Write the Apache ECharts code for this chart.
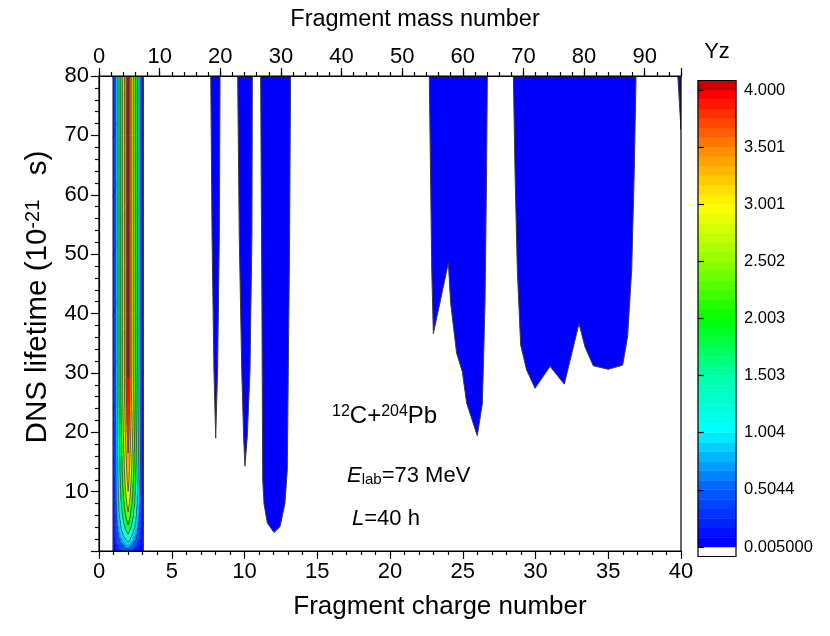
<!DOCTYPE html>
<html>
<head>
<meta charset="utf-8">
<title>Yz contour</title>
<script src="https://cdn.jsdelivr.net/npm/echarts@6.0.0/dist/echarts.min.js"></script>
<style>
  body { margin: 0; background: #fff; }
  #contour { width: 830px; height: 636px; }
</style>
</head>
<body>
<div id="contour"></div>
<script>
// contour levels of Yz and the colour bar labels
var levelLow = 0.005;
var levelHigh = 4.000;
var bandCount = 48;
var barLabels = ['0.005000', '0.5044', '1.004', '1.503', '2.003', '2.502', '3.001', '3.501', '4.000'];

// 0.005 outlines of the blue islands, points are [Z, lifetime]
var island8 = [[7.68, 80], [7.77, 53], [7.90, 30.5], [8.02, 19], [8.15, 30.5], [8.27, 53], [8.32, 80]];
var island10 = [[9.53, 80], [9.64, 53], [9.81, 30.5], [9.94, 19.2], [10.03, 14.3], [10.19, 19.2], [10.38, 30.5], [10.51, 53], [10.54, 80]];
var island12 = [[11.11, 80], [11.2, 40], [11.25, 12], [11.34, 8], [11.57, 4.7], [12.03, 3.1], [12.44, 4.1], [12.78, 8], [12.94, 13.6], [13.08, 47.3], [13.17, 80]];
var island23 = [[22.70, 80], [22.87, 47.3], [22.98, 36.6], [24.01, 48.5], [24.17, 41.7], [24.58, 33.3], [24.97, 30.2], [25.27, 24.9], [26.0, 19.4], [26.35, 24.9], [26.53, 41.7], [26.64, 64.1], [26.69, 80]];
var island30 = [[28.48, 80], [28.59, 64.1], [28.75, 47.3], [28.98, 34.7], [29.39, 30.5], [29.97, 27.4], [31.0, 31.1], [31.98, 28.1], [32.99, 38.3], [33.40, 34.4], [33.97, 31.2], [35.0, 30.6], [35.99, 31.3], [36.33, 36.1], [36.61, 47.3], [36.79, 64.1], [36.91, 80]];
var island40 = [[39.78, 80], [40, 80], [40, 71]];
var islands = [island8, island10, island12, island23, island30, island40];

// light fragments: Yz on a small grid, one list per Z, along heT
var heZ = [0, 1, 2, 3, 4];
var heT = [0, 1, 2, 3, 4, 5, 6, 8, 10, 12, 15, 18, 21, 24, 27, 30, 40, 50, 60, 70, 80];
var yzZ0 = [0, 0, 0, 0, 0, 0, 0, 0, 0, 0, 0, 0, 0, 0, 0, 0, 0, 0, 0, 0, 0];
var yzZ1 = [0.0052, 0.0052, 0.0052, 0.0052, 0.0052, 0.0052, 0.0052, 0.0052, 0.0052, 0.0052, 0.0052, 0.0052, 0.0052, 0.0052, 0.0052, 0.0052, 0.0052, 0.0052, 0.0052, 0.0052, 0.0052];
var yzZ2 = [0.4, 0.8, 1.2, 1.55, 1.9, 2.15, 2.4, 2.75, 3.0, 3.2, 3.4, 3.6, 3.75, 3.88, 3.97, 4.01, 4.01, 4.01, 4.01, 4.01, 4.01];
var yzZ3 = [0.0053, 0.0053, 0.0053, 0.0053, 0.0053, 0.0053, 0.0053, 0.0053, 0.0053, 0.0053, 0.0053, 0.0053, 0.0053, 0.0053, 0.0053, 0.0053, 0.0053, 0.0053, 0.0053, 0.0053, 0.0053];
var yzZ4 = [0, 0, 0, 0, 0, 0, 0, 0, 0, 0, 0, 0, 0, 0, 0, 0, 0, 0, 0, 0, 0];
var heYz = [yzZ0, yzZ1, yzZ2, yzZ3, yzZ4];

var levels = [];
for (var k = 0; k <= bandCount; k++) {
    levels.push(levelLow + k * (levelHigh - levelLow) / bandCount);
}
var labelStep = bandCount / (barLabels.length - 1);
var barTicks = barLabels.map(function (s, i) { return i * labelStep; });

var colorStops = [
    [0, [0, 0, 255]],
    [0.125, [0, 100, 255]],
    [0.25, [0, 255, 255]],
    [0.375, [0, 255, 165]],
    [0.5, [0, 255, 0]],
    [0.625, [140, 255, 0]],
    [0.75, [255, 255, 0]],
    [0.875, [255, 140, 0]],
    [1, [255, 0, 0]]
];
function bandColor(k) {
    if (k >= bandCount) return 'rgb(200,0,0)';
    var f = k / (bandCount - 1);
    for (var i = 1; i < colorStops.length; i++) {
        if (f <= colorStops[i][0]) {
            var a = colorStops[i - 1], b = colorStops[i];
            var s = (f - a[0]) / (b[0] - a[0]);
            var c = a[1].map(function (v, n) { return Math.round(v + s * (b[1][n] - v)); });
            return 'rgb(' + c.join(',') + ')';
        }
    }
    return 'rgb(255,0,0)';
}

// keep the part of a polygon (points [x, y, value]) above or below a level
function clipPoly(poly, level, keepAbove) {
    var out = [];
    for (var i = 0; i < poly.length; i++) {
        var a = poly[i], b = poly[(i + 1) % poly.length];
        var ina = keepAbove ? a[2] >= level : a[2] < level;
        var inb = keepAbove ? b[2] >= level : b[2] < level;
        if (ina) out.push(a);
        if (ina !== inb) {
            var s = (level - a[2]) / (b[2] - a[2]);
            out.push([a[0] + s * (b[0] - a[0]), a[1] + s * (b[1] - a[1]), level]);
        }
    }
    return out;
}
function isoSegment(tri, level) {
    var pts = [];
    for (var i = 0; i < 3; i++) {
        var a = tri[i], b = tri[(i + 1) % 3];
        if ((a[2] - level) * (b[2] - level) < 0) {
            var s = (level - a[2]) / (b[2] - a[2]);
            pts.push([a[0] + s * (b[0] - a[0]), a[1] + s * (b[1] - a[1])]);
        }
    }
    return pts.length === 2 ? pts : null;
}
function cellTriangles(api) {
    var i = api.value(4), j = api.value(5);
    function corner(a, b) {
        var c = api.coord([heZ[a], heT[b]]);
        return [c[0], c[1], heYz[a][b]];
    }
    var p00 = corner(i, j), p10 = corner(i + 1, j), p01 = corner(i, j + 1), p11 = corner(i + 1, j + 1);
    return [[p00, p10, p11], [p00, p11, p01]];
}

function renderHeFill(params, api) {
    var children = [];
    cellTriangles(api).forEach(function (tri) {
        var vals = tri.map(function (p) { return p[2]; });
        var vmin = Math.min.apply(null, vals), vmax = Math.max.apply(null, vals);
        for (var k = 0; k <= bandCount; k++) {
            var lo = levels[k];
            var hi = k < bandCount ? levels[k + 1] : Infinity;
            if (vmax < lo || vmin >= hi) continue;
            var poly = clipPoly(tri, lo, true);
            if (k < bandCount) poly = clipPoly(poly, hi, false);
            if (poly.length < 3) continue;
            var c = bandColor(k);
            children.push({
                type: 'polygon',
                shape: { points: poly.map(function (p) { return [p[0], p[1]]; }) },
                style: { fill: c, stroke: c, lineWidth: 0.5 }
            });
        }
    });
    return { type: 'group', children: children };
}
function renderHeLines(params, api) {
    var children = [];
    cellTriangles(api).forEach(function (tri) {
        for (var k = 0; k <= bandCount; k += labelStep) {
            var seg = isoSegment(tri, levels[k]);
            if (!seg) continue;
            children.push({
                type: 'line',
                shape: { x1: seg[0][0], y1: seg[0][1], x2: seg[1][0], y2: seg[1][1] },
                style: { stroke: '#3a3a3a', lineWidth: 0.8 }
            });
        }
    });
    return { type: 'group', children: children };
}
function renderIsland(params, api) {
    var pts = islands[api.value(2)].map(function (p) { return api.coord(p); });
    return {
        type: 'polygon',
        shape: { points: pts },
        style: { fill: bandColor(0), stroke: '#3c3c3c', lineWidth: 1 }
    };
}
function renderBand(params, api) {
    var k = api.value(1);
    var p0 = api.coord([0, k]), p1 = api.coord([1, k + 1]);
    var c = k < 0 ? '#ffffff' : bandColor(k);
    return {
        type: 'rect',
        shape: { x: p0[0], y: p1[1], width: p1[0] - p0[0], height: p0[1] - p1[1] },
        style: { fill: c, stroke: c, lineWidth: 0.5 }
    };
}

var heCells = [];
for (var i = 0; i < heZ.length - 1; i++) {
    for (var j = 0; j < heT.length - 1; j++) {
        heCells.push([heZ[i], heT[j], heZ[i + 1], heT[j + 1], i, j]);
    }
}
var islandData = islands.map(function (isl, n) { return [isl[0][0], 80, n]; });
var bandData = [];
for (var b = -1; b <= bandCount; b++) bandData.push([0, b]);

var font = 'Liberation Sans';
var black = '#000';
var lineBlack = { color: black, width: 1.2 };

var myChart = echarts.init(document.getElementById('contour'));
myChart.setOption({
    animation: false,
    textStyle: { fontFamily: font, color: black },
    grid: [
        { left: 99, top: 76, width: 582, height: 475, show: true, borderColor: black, borderWidth: 1.2, z: 10, containLabel: false, outerBoundsMode: 'none' },
        { left: 698, top: 80.5, width: 38, height: 476, show: true, borderColor: black, borderWidth: 1.2, z: 10, containLabel: false, outerBoundsMode: 'none' }
    ],
    xAxis: [
        {
            gridIndex: 0, type: 'value', position: 'bottom', min: 0, max: 40, interval: 5, z: 10,
            axisLine: { lineStyle: lineBlack },
            axisTick: { length: 8, lineStyle: lineBlack },
            minorTick: { show: true, splitNumber: 5, length: 4, lineStyle: lineBlack },
            axisLabel: { fontSize: 22, color: black, margin: 10 },
            splitLine: { show: false }
        },
        {
            gridIndex: 0, type: 'value', position: 'top', min: 0, max: 96, interval: 10, z: 10,
            axisLine: { lineStyle: lineBlack },
            axisTick: { length: 8, lineStyle: lineBlack },
            axisLabel: {
                fontSize: 22, color: black, margin: 8,
                formatter: function (v) { return v % 10 === 0 ? String(v) : ''; }
            },
            splitLine: { show: false }
        },
        {
            gridIndex: 0, type: 'value', position: 'top', min: 0, max: 96, interval: 2, z: 10,
            axisLine: { show: false },
            axisTick: { length: 4, lineStyle: lineBlack },
            axisLabel: { show: false },
            splitLine: { show: false }
        },
        { gridIndex: 1, type: 'value', min: 0, max: 1, show: false }
    ],
    yAxis: [
        {
            gridIndex: 0, type: 'value', position: 'left', min: 0, max: 80, interval: 10, z: 10,
            axisLine: { lineStyle: lineBlack },
            axisTick: { length: 8, lineStyle: lineBlack },
            minorTick: { show: true, splitNumber: 5, length: 4, lineStyle: lineBlack },
            axisLabel: {
                fontSize: 22, color: black, margin: 10,
                formatter: function (v) { return v === 0 ? '' : String(v); }
            },
            splitLine: { show: false }
        },
        {
            gridIndex: 1, type: 'value', position: 'right', min: -1, max: bandCount + 1, z: 10,
            axisLine: { show: false },
            axisTick: { show: true, length: 6, customValues: barTicks, lineStyle: lineBlack },
            axisLabel: {
                show: true, fontSize: 16.5, color: black, margin: 8, customValues: barTicks,
                formatter: function (v) { return barLabels[Math.round(v / labelStep)]; }
            },
            splitLine: { show: false }
        }
    ],
    graphic: [
        {
            type: 'text', x: 440, y: 607,
            style: { text: 'Fragment charge number', font: '26px ' + font, fill: black, align: 'center', verticalAlign: 'middle' }
        },
        {
            type: 'text', x: 415, y: 20,
            style: { text: 'Fragment mass number', font: '23.5px ' + font, fill: black, align: 'center', verticalAlign: 'middle' }
        },
        {
            type: 'text', x: 38, y: 297, rotation: Math.PI / 2,
            style: {
                text: '{n|DNS lifetime (10}{sup|-21}{n|   s)}', align: 'center', verticalAlign: 'middle',
                rich: {
                    n: { fontSize: 29.5, fontFamily: font, fill: black, verticalAlign: 'middle' },
                    sup: { fontSize: 20, fontFamily: font, fill: black, verticalAlign: 'top' }
                }
            }
        },
        {
            type: 'text', x: 717, y: 52,
            style: { text: 'Yz', font: '22px ' + font, fill: black, align: 'center', verticalAlign: 'middle' }
        },
        {
            type: 'text', x: 332, y: 428,
            style: {
                text: '{sup|12}{n|C+}{sup|204}{n|Pb}', verticalAlign: 'bottom',
                rich: {
                    n: { fontSize: 24, fontFamily: font, fill: black, verticalAlign: 'middle' },
                    sup: { fontSize: 16, fontFamily: font, fill: black, verticalAlign: 'top' }
                }
            }
        },
        {
            type: 'text', x: 347, y: 487,
            style: {
                text: '{i|E}{sub|lab}{n|=73 MeV}', verticalAlign: 'bottom',
                rich: {
                    n: { fontSize: 22, fontFamily: font, fill: black, verticalAlign: 'middle' },
                    i: { fontSize: 22, fontFamily: font, fontStyle: 'italic', fill: black, verticalAlign: 'middle' },
                    sub: { fontSize: 15, fontFamily: font, fill: black, verticalAlign: 'bottom' }
                }
            }
        },
        {
            type: 'text', x: 352, y: 530,
            style: {
                text: '{i|L}{n|=40 h}', verticalAlign: 'bottom',
                rich: {
                    n: { fontSize: 22, fontFamily: font, fill: black, verticalAlign: 'middle' },
                    i: { fontSize: 22, fontFamily: font, fontStyle: 'italic', fill: black, verticalAlign: 'middle' }
                }
            }
        }
    ],
    series: [
        {
            type: 'custom', name: 'islands', xAxisIndex: 0, yAxisIndex: 0, clip: true,
            encode: { x: 0, y: 1 }, data: islandData, renderItem: renderIsland, silent: true
        },
        {
            type: 'custom', name: 'He fill', xAxisIndex: 0, yAxisIndex: 0, clip: true,
            encode: { x: [0, 2], y: [1, 3] }, data: heCells, renderItem: renderHeFill, silent: true
        },
        {
            type: 'custom', name: 'He lines', xAxisIndex: 0, yAxisIndex: 0, clip: true,
            encode: { x: [0, 2], y: [1, 3] }, data: heCells, renderItem: renderHeLines, silent: true
        },
        {
            type: 'custom', name: 'colour bar', xAxisIndex: 3, yAxisIndex: 1,
            encode: { x: 0, y: 1 }, data: bandData, renderItem: renderBand, silent: true
        }
    ]
});
</script>
</body>
</html>
